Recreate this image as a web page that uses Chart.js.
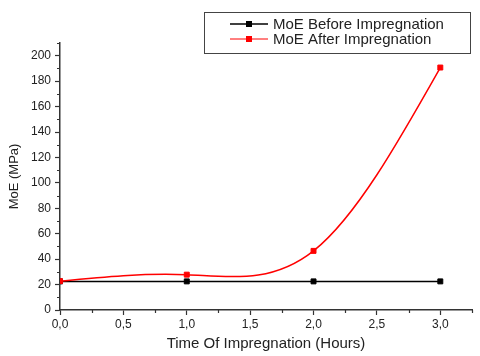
<!DOCTYPE html>
<html>
<head>
<meta charset="utf-8">
<script src="https://cdn.jsdelivr.net/npm/chart.js@4"></script>
<style>
  html, body { margin: 0; padding: 0; background: #fff; }
  #wrap { width: 480px; height: 356px; }
</style>
</head>
<body>
<div id="wrap"><canvas id="moeChart" width="480" height="356"></canvas></div>
<script>
// data
const hours = [0, 1, 2, 3];
const moeBefore = [22.5, 22.5, 22.5, 22.5];
const moeAfter = [22.7, 27.8, 46.5, 190.7];

const xMajorTicks = [0, 0.5, 1, 1.5, 2, 2.5, 3];
const xMinorTicks = [0.25, 0.75, 1.25, 1.75, 2.25, 2.75, 3.25];
const yMajorTicks = [0, 20, 40, 60, 80, 100, 120, 140, 160, 180, 200];
const yMinorTicks = [10, 30, 50, 70, 90, 110, 130, 150, 170, 190, 210];

const legendLabels = ["MoE Before Impregnation", "MoE After Impregnation"];
const legendColors = ["#000000", "#ff0000"];

const FONT = "'Liberation Sans', Arial, sans-serif";
const AXIS_COLOR = "#333";

// natural cubic spline -> bezier segments (in data space)
function splineSegments(xs, ys) {
    const n = xs.length;
    const h = [];
    for (let i = 0; i < n - 1; i++) h.push(xs[i + 1] - xs[i]);
    const M = new Array(n).fill(0);
    if (n > 2) {
        // tridiagonal system for interior second derivatives
        const a = [], b = [], c = [], d = [];
        for (let i = 1; i < n - 1; i++) {
            a.push(h[i - 1]);
            b.push(2 * (h[i - 1] + h[i]));
            c.push(h[i]);
            d.push(6 * ((ys[i + 1] - ys[i]) / h[i] - (ys[i] - ys[i - 1]) / h[i - 1]));
        }
        const m = b.length;
        for (let i = 1; i < m; i++) {
            const w = a[i] / b[i - 1];
            b[i] -= w * c[i - 1];
            d[i] -= w * d[i - 1];
        }
        const sol = new Array(m);
        sol[m - 1] = d[m - 1] / b[m - 1];
        for (let i = m - 2; i >= 0; i--) sol[i] = (d[i] - c[i] * sol[i + 1]) / b[i];
        for (let i = 0; i < m; i++) M[i + 1] = sol[i];
    }
    const segs = [];
    for (let i = 0; i < n - 1; i++) {
        const slope = (ys[i + 1] - ys[i]) / h[i];
        const d0 = slope - h[i] * (2 * M[i] + M[i + 1]) / 6;
        const d1 = slope + h[i] * (M[i] + 2 * M[i + 1]) / 6;
        segs.push({
            x0: xs[i], y0: ys[i],
            cx1: xs[i] + h[i] / 3, cy1: ys[i] + d0 * h[i] / 3,
            cx2: xs[i + 1] - h[i] / 3, cy2: ys[i + 1] - d1 * h[i] / 3,
            x1: xs[i + 1], y1: ys[i + 1]
        });
    }
    return segs;
}

const splinePlugin = {
    id: "splineLine",
    afterDatasetDraw(chart, args) {
        if (args.index !== 0) return; // draw right after the black series, under red markers
        const xs = chart.scales.x, ys = chart.scales.y;
        const ctx = chart.ctx;
        const segs = splineSegments(hours, moeAfter);
        ctx.save();
        ctx.strokeStyle = legendColors[1];
        ctx.lineWidth = 1.5;
        ctx.beginPath();
        ctx.moveTo(xs.getPixelForValue(segs[0].x0), ys.getPixelForValue(segs[0].y0));
        segs.forEach(s => {
            ctx.bezierCurveTo(
                xs.getPixelForValue(s.cx1), ys.getPixelForValue(s.cy1),
                xs.getPixelForValue(s.cx2), ys.getPixelForValue(s.cy2),
                xs.getPixelForValue(s.x1), ys.getPixelForValue(s.y1)
            );
        });
        ctx.stroke();
        ctx.restore();
    }
};

const axisDecorPlugin = {
    id: "axisDecor",
    afterDraw(chart) {
        const ctx = chart.ctx;
        const xs = chart.scales.x, ys = chart.scales.y;
        const area = chart.chartArea;
        ctx.save();
        // minor ticks
        ctx.strokeStyle = AXIS_COLOR;
        ctx.lineWidth = 1.2;
        ctx.beginPath();
        xMinorTicks.forEach(v => {
            const px = Math.round(xs.getPixelForValue(v)) + 0.5;
            ctx.moveTo(px, area.bottom);
            ctx.lineTo(px, area.bottom + 3);
        });
        yMinorTicks.forEach(v => {
            const py = Math.round(ys.getPixelForValue(v)) + 0.5;
            ctx.moveTo(area.left, py);
            ctx.lineTo(area.left - 3, py);
        });
        ctx.stroke();

        // legend box
        const bx = 204.5, by = 12.5, bw = 266, bh = 41;
        ctx.strokeStyle = "#444";
        ctx.lineWidth = 1;
        ctx.strokeRect(bx, by, bw, bh);
        const rows = [24, 39];
        ctx.font = "15px " + FONT;
        ctx.textBaseline = "middle";
        ctx.textAlign = "left";
        legendLabels.forEach((label, i) => {
            const y = rows[i];
            ctx.strokeStyle = legendColors[i];
            ctx.lineWidth = i === 0 ? 1.5 : 1;
            ctx.beginPath();
            ctx.moveTo(230, y);
            ctx.lineTo(268, y);
            ctx.stroke();
            ctx.fillStyle = legendColors[i];
            ctx.fillRect(246, y - 3, 6, 6);
            ctx.fillStyle = "#222";
            ctx.fillText(label, 273, y + 0.5);
        });
        ctx.restore();
    }
};

new Chart(document.getElementById("moeChart"), {
    type: "line",
    data: {
        datasets: [
            {
                label: legendLabels[0],
                data: hours.map((h, i) => ({ x: h, y: moeBefore[i] })),
                borderColor: legendColors[0],
                backgroundColor: legendColors[0],
                borderWidth: 1.5,
                tension: 0,
                pointStyle: "rect",
                pointRadius: 3.5,
                pointBorderWidth: 1,
                pointBackgroundColor: legendColors[0],
                pointBorderColor: legendColors[0],
                order: 1
            },
            {
                label: legendLabels[1],
                data: hours.map((h, i) => ({ x: h, y: moeAfter[i] })),
                showLine: false,
                borderColor: legendColors[1],
                backgroundColor: legendColors[1],
                pointStyle: "rect",
                pointRadius: 3.5,
                pointBorderWidth: 1,
                pointBackgroundColor: legendColors[1],
                pointBorderColor: legendColors[1],
                order: 0
            }
        ]
    },
    options: {
        responsive: false,
        animation: false,
        layout: { padding: { top: 43, right: 8, left: 0, bottom: 0 } },
        plugins: {
            legend: { display: false },
            tooltip: { enabled: false }
        },
        scales: {
            x: {
                type: "linear",
                min: 0,
                max: 3.25,
                afterBuildTicks: s => { s.ticks = xMajorTicks.map(v => ({ value: v })); },
                afterFit: s => { s.height = 46; },
                grid: { drawOnChartArea: false, drawTicks: true, tickLength: 5, tickColor: AXIS_COLOR, tickWidth: 1.2 },
                border: { display: true, color: AXIS_COLOR, width: 1.5 },
                ticks: {
                    color: "#222",
                    font: { family: FONT, size: 12 },
                    padding: 2,
                    maxRotation: 0,
                    callback: v => v.toFixed(1).replace(".", ",")
                },
                title: {
                    display: true,
                    text: "Time Of Impregnation (Hours)",
                    color: "#222",
                    font: { family: FONT, size: 15 },
                    padding: { top: 0, bottom: 3 }
                }
            },
            y: {
                type: "linear",
                min: 0,
                max: 210,
                afterBuildTicks: s => { s.ticks = yMajorTicks.map(v => ({ value: v })); },
                afterFit: s => { s.width = 60; },
                grid: { drawOnChartArea: false, drawTicks: true, tickLength: 5, tickColor: AXIS_COLOR, tickWidth: 1.2 },
                border: { display: true, color: AXIS_COLOR, width: 1.5 },
                ticks: {
                    color: "#222",
                    font: { family: FONT, size: 12 },
                    padding: 4
                },
                title: {
                    display: true,
                    text: "MoE (MPa)",
                    color: "#222",
                    font: { family: FONT, size: 13 },
                    padding: { top: 7, bottom: 0 }
                }
            }
        }
    },
    plugins: [splinePlugin, axisDecorPlugin]
});
</script>
</body>
</html>
